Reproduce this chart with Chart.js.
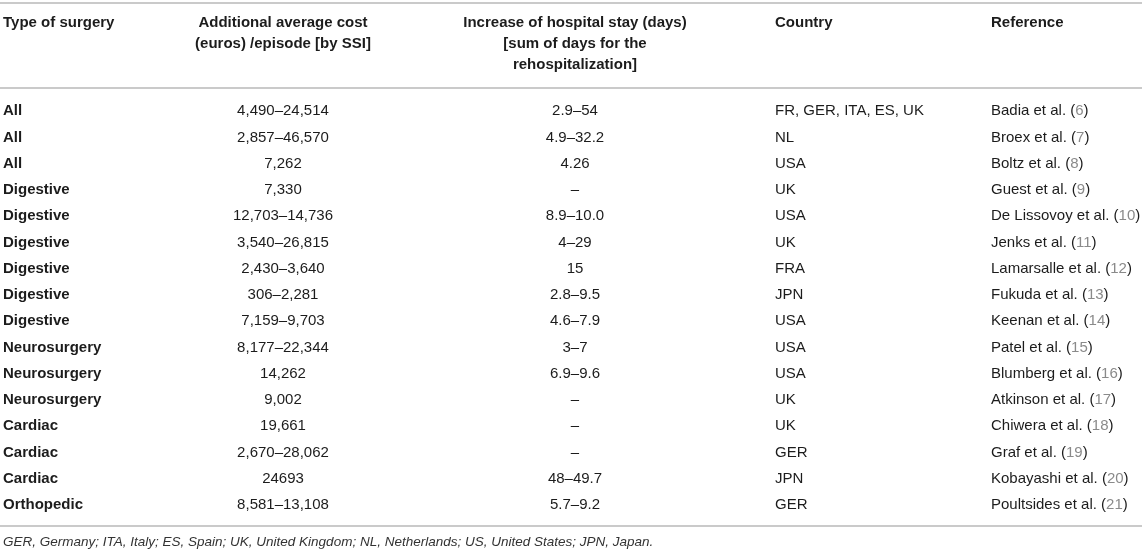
<!DOCTYPE html>
<html>
<head>
<meta charset="utf-8">
<script src="https://cdn.jsdelivr.net/npm/chart.js@4.4.0/dist/chart.umd.min.js"></script>
<style>
	html, body { margin: 0; padding: 0; background: #fff; }
	#wrap { width: 1142px; height: 553px; }
</style>
</head>
<body>
<div id="wrap"><canvas id="ssi"></canvas></div>
<script>
const surgery = ["All", "All", "All", "Digestive", "Digestive", "Digestive", "Digestive", "Digestive", "Digestive",
	"Neurosurgery", "Neurosurgery", "Neurosurgery", "Cardiac", "Cardiac", "Cardiac", "Orthopedic"];
const costs = ["4,490–24,514", "2,857–46,570", "7,262", "7,330", "12,703–14,736", "3,540–26,815", "2,430–3,640",
	"306–2,281", "7,159–9,703", "8,177–22,344", "14,262", "9,002", "19,661", "2,670–28,062", "24693", "8,581–13,108"];
const stays = ["2.9–54", "4.9–32.2", "4.26", "–", "8.9–10.0", "4–29", "15", "2.8–9.5", "4.6–7.9", "3–7",
	"6.9–9.6", "–", "–", "–", "48–49.7", "5.7–9.2"];
const countries = ["FR, GER, ITA, ES, UK", "NL", "USA", "UK", "USA", "UK", "FRA", "JPN", "USA", "USA", "USA",
	"UK", "UK", "GER", "JPN", "GER"];
const authors = ["Badia et al.", "Broex et al.", "Boltz et al.", "Guest et al.", "De Lissovoy et al.", "Jenks et al.",
	"Lamarsalle et al.", "Fukuda et al.", "Keenan et al.", "Patel et al.", "Blumberg et al.", "Atkinson et al.",
	"Chiwera et al.", "Graf et al.", "Kobayashi et al.", "Poultsides et al."];
const refNumbers = [6, 7, 8, 9, 10, 11, 12, 13, 14, 15, 16, 17, 18, 19, 20, 21];

const headers = [
	["Type of surgery"],
	["Additional average cost", "(euros) /episode [by SSI]"],
	["Increase of hospital stay (days)", "[sum of days for the", "rehospitalization]"],
	["Country"],
	["Reference"]
];
const footnote = "GER, Germany; ITA, Italy; ES, Spain; UK, United Kingdom; NL, Netherlands; US, United States; JPN, Japan.";

// layout
const FONT = "\"Liberation Sans\", Arial, sans-serif";
const SIZE = "15px ";
const INK = "#1c1c1c";
const RULE = "#b8b8b8";
const cols = [
	{ x: 3, align: "left" },
	{ x: 283, align: "center" },
	{ x: 575, align: "center" },
	{ x: 775, align: "left" },
	{ x: 991, align: "left" }
];
const headerLineY = [23, 44, 65];

const tablePlugin = {
	id: "tablePlugin",
	afterDraw(chart) {
		const ctx = chart.ctx;
		const xs = chart.scales.x;
		const ys = chart.scales.y;
		ctx.save();

		ctx.strokeStyle = RULE;
		ctx.lineWidth = 1.5;
		[3, 88, 526].forEach((y) => {
			ctx.beginPath();
			ctx.moveTo(0, y);
			ctx.lineTo(chart.width, y);
			ctx.stroke();
		});

		ctx.textBaseline = "middle";
		ctx.fillStyle = INK;
		ctx.font = "bold " + SIZE + FONT;
		headers.forEach((lines, c) => {
			ctx.textAlign = cols[c].align;
			lines.forEach((t, k) => ctx.fillText(t, xs.getPixelForValue(cols[c].x), headerLineY[k]));
		});

		const columns = [surgery, costs, stays, countries];
		surgery.forEach((_, i) => {
			const y = ys.getPixelForValue(i);
			columns.forEach((col, c) => {
				ctx.font = (c === 0 ? "bold " : "") + SIZE + FONT;
				ctx.textAlign = cols[c].align;
				ctx.fillStyle = INK;
				ctx.fillText(col[i], xs.getPixelForValue(cols[c].x), y);
			});
			ctx.font = SIZE + FONT;
			ctx.textAlign = "left";
			let x = xs.getPixelForValue(cols[4].x);
			const parts = [[authors[i] + " (", INK], [String(refNumbers[i]), "#8a8a8a"], [")", INK]];
			parts.forEach(([t, color]) => {
				ctx.fillStyle = color;
				ctx.fillText(t, x, y);
				x += ctx.measureText(t).width;
			});
		});

		ctx.font = "italic 13.5px " + FONT;
		ctx.fillStyle = "#333";
		ctx.textAlign = "left";
		ctx.fillText(footnote, 3, 542);
		ctx.restore();
	}
};

new Chart(document.getElementById("ssi"), {
	type: "scatter",
	data: { datasets: [{ data: [] }] },
	options: {
		responsive: true,
		maintainAspectRatio: false,
		animation: false,
		layout: { padding: { top: 98, bottom: 35, left: 0, right: 0 } },
		plugins: { legend: { display: false }, tooltip: { enabled: false } },
		scales: {
			x: { type: "linear", min: 0, max: 1142, display: false },
			y: { type: "category", labels: surgery.map((_, i) => i), offset: true, display: false }
		}
	},
	plugins: [tablePlugin]
});
</script>
</body>
</html>
